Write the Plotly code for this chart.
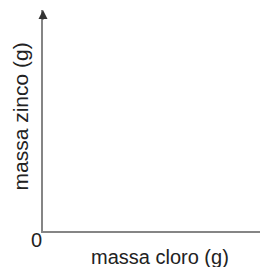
import plotly.graph_objects as go

# Chart content (empty axes diagram)
x_title = "massa cloro (g)"
y_title = "massa zinco (g)"
origin_label = "0"
x_values = []
y_values = []

FONT = "Liberation Sans, Arial, sans-serif"
AXIS_COLOR = "#858585"
TEXT_COLOR = "#222222"

fig = go.Figure()
fig.add_trace(go.Scatter(x=x_values, y=y_values, mode="lines", showlegend=False))

# the page body has an 8px margin, so the figure is sized to fill the rest of the window
fig.update_layout(
    width=260, height=259,
    margin=dict(l=35, r=0, t=2, b=36, autoexpand=False),
    paper_bgcolor="white", plot_bgcolor="white",
    font=dict(family=FONT, size=20, color=TEXT_COLOR),
    showlegend=False,
)
fig.update_xaxes(
    range=[0, 1], showgrid=False, zeroline=False, showticklabels=False, ticks="",
    showline=True, linecolor=AXIS_COLOR, linewidth=1.5, automargin=False,
)
fig.update_yaxes(
    range=[0, 1], showgrid=False, zeroline=False, showticklabels=False, ticks="",
    showline=True, linecolor=AXIS_COLOR, linewidth=1.5, automargin=False,
)
# arrow head on y axis
fig.add_annotation(x=0, y=1, ax=0, ay=0.95, xref="x", yref="y", axref="x", ayref="y",
                   showarrow=True, arrowhead=2, arrowsize=1.2, arrowwidth=1.5,
                   arrowcolor="#333333", text="")
# axis titles
fig.add_annotation(x=0.52, y=0, xref="paper", yref="paper", text=x_title, showarrow=False,
                   xanchor="center", yanchor="middle", yshift=-26,
                   font=dict(size=20, family=FONT, color=TEXT_COLOR))
fig.add_annotation(x=0, y=0.518, xref="paper", yref="paper", text=y_title, showarrow=False,
                   textangle=-90, xanchor="center", yanchor="middle", xshift=-22,
                   font=dict(size=21, family=FONT, color=TEXT_COLOR))
# origin label
fig.add_annotation(x=0, y=0, xref="paper", yref="paper", text=origin_label, showarrow=False,
                   xanchor="center", yanchor="middle", xshift=-7, yshift=-9,
                   font=dict(size=20, family=FONT, color=TEXT_COLOR))

fig.write_html("out.html")
